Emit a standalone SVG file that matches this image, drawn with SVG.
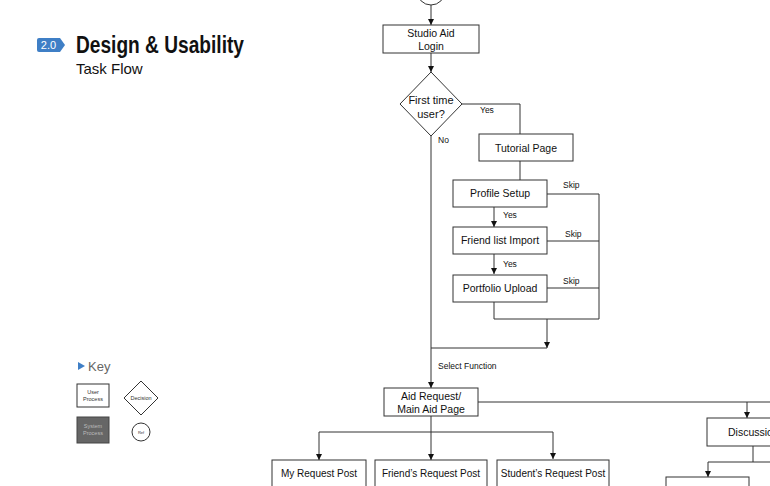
<svg xmlns="http://www.w3.org/2000/svg" width="770" height="486" viewBox="0 0 770 486">
<style>
.box{fill:#fff;stroke:#333;stroke-width:1}
.ln{fill:none;stroke:#333;stroke-width:1}
.t{font-family:"Liberation Sans",Arial,sans-serif;font-size:10.5px;fill:#111;text-anchor:middle}
.tb{font-family:"Liberation Sans",Arial,sans-serif;font-size:10px;fill:#111;text-anchor:middle}
.lb{font-family:"Liberation Sans",Arial,sans-serif;font-size:8.5px;fill:#111}
.k{font-family:"Liberation Sans",Arial,sans-serif;font-size:5.5px;fill:#333;text-anchor:middle}
</style>
<defs>
<marker id="ah" markerWidth="7" markerHeight="7" refX="6" refY="3" orient="auto" markerUnits="userSpaceOnUse">
<path d="M0,0 L6,3 L0,6 z" fill="#111"/>
</marker>
</defs>
<rect width="770" height="486" fill="#fff"/>
<g id="header">
<path d="M39,38 H60 L65,45 L60,52 H39 Q37,52 37,50 V40 Q37,38 39,38 z" fill="#3f7fc6"/>
<text x="48.5" y="49" font-family="Liberation Sans,Arial,sans-serif" font-size="11" fill="#fff" text-anchor="middle">2.0</text>
<text x="76" y="53" font-family="Liberation Sans,Arial,sans-serif" font-size="23" font-weight="bold" fill="#111" textLength="168" lengthAdjust="spacingAndGlyphs">Design &amp; Usability</text>
<text x="76" y="74" font-family="Liberation Sans,Arial,sans-serif" font-size="15" fill="#111">Task Flow</text>
</g>
<g id="key">
<path d="M78,362 L85,366 L78,370 z" fill="#3f7fc6"/>
<text x="88" y="371" font-family="Liberation Sans,Arial,sans-serif" font-size="13" fill="#666">Key</text>
<rect x="77" y="384" width="32" height="23" class="box"/>
<text x="93" y="394" class="k">User</text>
<text x="93" y="401" class="k">Process</text>
<path d="M141,381 L158,398 L141,415 L124,398 z" class="box"/>
<text x="141" y="400" class="k">Decision</text>
<rect x="77" y="417" width="32" height="26" fill="#666" stroke="#444"/>
<text x="93" y="428" class="k" fill="#bbb" style="fill:#bbb">System</text>
<text x="93" y="435" class="k" style="fill:#bbb">Process</text>
<circle cx="141" cy="432" r="9" class="box"/>
<text x="141" y="434" class="k" font-size="4" style="font-size:4px">Ref</text>
</g>
<g id="connectors">
<path class="ln" d="M431,5 V25" marker-end="url(#ah)"/>
<path class="ln" d="M431,53 V72" marker-end="url(#ah)"/>
<path class="ln" d="M461,104 H520 V134"/>
<path class="ln" d="M431,136 V388" marker-end="url(#ah)"/>
<path class="ln" d="M520,161 V180"/>
<path class="ln" d="M547,194 H599 V319"/>
<path class="ln" d="M547,241 H599"/>
<path class="ln" d="M547,288 H599"/>
<path class="ln" d="M494,207 V227" marker-end="url(#ah)"/>
<path class="ln" d="M494,254 V274" marker-end="url(#ah)"/>
<path class="ln" d="M494,302 V319 H599"/>
<path class="ln" d="M547,319 V348" marker-end="url(#ah)"/>
<path class="ln" d="M431,348 H547"/>
<path class="ln" d="M478,402 H770"/>
<path class="ln" d="M747,402 V418" marker-end="url(#ah)"/>
<path class="ln" d="M431,416 V432"/>
<path class="ln" d="M319,432 H553"/>
<path class="ln" d="M319,432 V460" marker-end="url(#ah)"/>
<path class="ln" d="M431,432 V460" marker-end="url(#ah)"/>
<path class="ln" d="M553,432 V459" marker-end="url(#ah)"/>
<path class="ln" d="M753,446 V462"/>
<path class="ln" d="M708,462 H770"/>
<path class="ln" d="M708,462 V477" marker-end="url(#ah)"/>
</g>
<g id="labels">
<text x="480" y="113" class="lb">Yes</text>
<text x="438" y="143" class="lb">No</text>
<text x="563" y="188" class="lb">Skip</text>
<text x="503" y="218" class="lb">Yes</text>
<text x="565" y="237" class="lb">Skip</text>
<text x="503" y="267" class="lb">Yes</text>
<text x="563" y="284" class="lb">Skip</text>
<text x="438" y="369" class="lb">Select Function</text>
</g>
<g id="start"><circle cx="431" cy="-9" r="14" class="box"/></g>
<g id="login">
<rect x="383" y="25" width="96" height="28" class="box"/>
<text x="431" y="37" class="t">Studio Aid</text>
<text x="431" y="50" class="t">Login</text>
</g>
<g id="first-time">
<path d="M431,72 L462,104 L431,136 L400,104 z" class="box"/>
<text x="431" y="104" class="t" style="font-size:11px">First time</text>
<text x="431" y="118" class="t" style="font-size:11px">user?</text>
</g>
<g id="tutorial">
<rect x="479" y="134" width="94" height="27" class="box"/>
<text x="526" y="152" class="t">Tutorial Page</text>
</g>
<g id="profile">
<rect x="453" y="180" width="94" height="27" class="box"/>
<text x="500" y="197" class="t">Profile Setup</text>
</g>
<g id="friend-list">
<rect x="453" y="227" width="94" height="27" class="box"/>
<text x="500" y="244" class="t">Friend list Import</text>
</g>
<g id="portfolio">
<rect x="453" y="275" width="94" height="27" class="box"/>
<text x="500" y="292" class="t">Portfolio Upload</text>
</g>
<g id="aid-request">
<rect x="384" y="388" width="94" height="28" class="box"/>
<text x="431" y="400" class="t">Aid Request/</text>
<text x="431" y="413" class="t">Main Aid Page</text>
</g>
<g id="my-request">
<rect x="272" y="460" width="94" height="36" class="box"/>
<text x="319" y="477" class="tb">My Request Post</text>
</g>
<g id="friends-request">
<rect x="375" y="460" width="112" height="36" class="box"/>
<text x="431" y="477" class="tb">Friend’s Request Post</text>
</g>
<g id="students-request">
<rect x="497" y="460" width="112" height="36" class="box"/>
<text x="553" y="477" class="tb">Student’s Request Post</text>
</g>
<g id="discussion">
<rect x="707" y="418" width="90" height="28" class="box"/>
<text x="728" y="436" class="t" style="text-anchor:start">Discussion</text>
</g>
<g id="sub-discussion">
<rect x="666" y="477" width="83" height="20" class="box"/>
</g>
</svg>
